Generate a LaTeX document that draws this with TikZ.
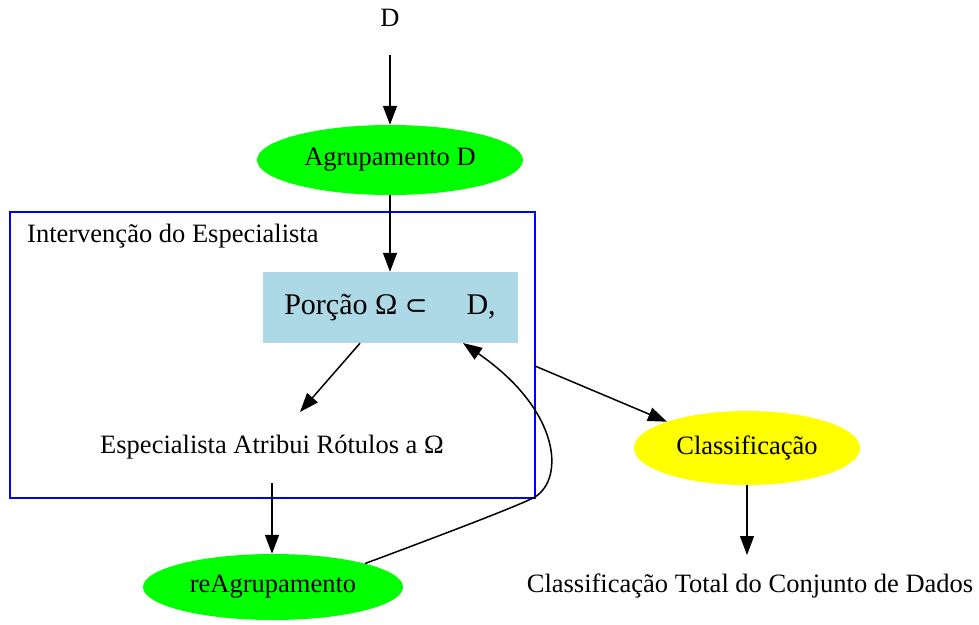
\documentclass[tikz,border=0pt]{standalone}
\usepackage{fontspec}
\setmainfont{Liberation Serif}
\newfontfamily\symfnt{DejaVu Sans}
\usetikzlibrary{arrows.meta,shapes.geometric,calc}
\definecolor{gvgreen}{HTML}{00FF00}
\definecolor{gvyellow}{HTML}{FFFF00}
\definecolor{gvblue}{HTML}{ADD8E6}
\definecolor{gvcluster}{HTML}{0000FF}
\tikzset{
  txt/.style={font=\fontsize{26.5}{30}\selectfont, inner sep=0pt},
  ell/.style={ellipse, draw=none, minimum width=#1, inner sep=0pt, font=\fontsize{26.5}{30}\selectfont},
  edge/.style={draw=black, line width=1.5pt, -{Triangle[length=19pt,width=14pt]}},
}
\begin{document}
\begin{tikzpicture}[x=1pt,y=-1pt]
\useasboundingbox (0,0) rectangle (979,624);
% cluster
\draw[gvcluster, line width=1.6pt] (10,212) rectangle (535,498);
\node[txt, anchor=west] (clabel) at (27,236) {Intervenção do Especialista};
% nodes
\node[txt] (D) at (390,18) {D};
\node[ell=266pt, fill=gvgreen, minimum height=70pt] (agr) at (390,160) {Agrupamento D};
\node[fill=gvblue, minimum width=255pt, minimum height=71pt, inner sep=0pt,
      font=\fontsize{30}{34}\selectfont] (por) at (390,307.5) {Porção Ω {\symfnt\fontsize{27}{30}\selectfont ⊂}\hspace{1.3em}D,};
\node[txt] (esp) at (272,447) {Especialista Atribui Rótulos a Ω};
\node[ell=260pt, fill=gvgreen, minimum height=66pt] (reag) at (273,587) {reAgrupamento};
\node[ell=226pt, fill=gvyellow, minimum height=74pt] (cls) at (747,448) {Classificação};
\node[txt] (tot) at (750,586) {Classificação Total do Conjunto de Dados};
% connector points
\coordinate (dbot) at (390,55);
\coordinate (ce) at (535,366);
\coordinate (eb) at (272,483);
\coordinate (et) at (300,412);
\coordinate (clsb) at (747,485);
\coordinate (tott) at (747,555);
\coordinate (bend) at (535,497);
% edges
\draw[edge] (dbot) -- (agr.north);
\draw[edge] (agr.south) -- (por.north);
\draw[edge] (por.south -| 360,0) -- (et);
\draw[edge] (eb) -- (reag.north -| eb);
\draw[edge] (ce) -- (cls.north west);
\draw[edge] (clsb) -- (tott);
\draw[edge] (reag.north east) .. controls (455,530) and (520,505) .. (bend)
   .. controls (565,478) and (560,410) .. (463,343);
\end{tikzpicture}
\end{document}
